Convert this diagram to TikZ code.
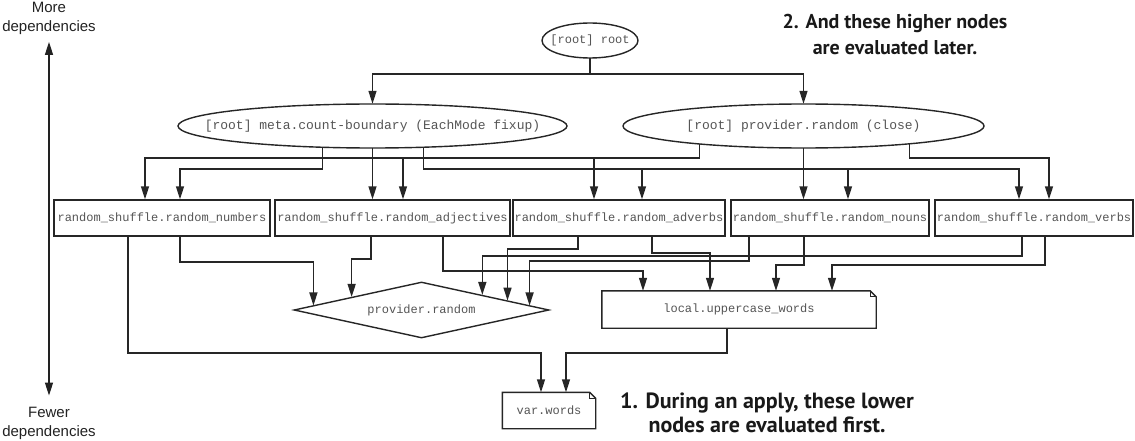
\documentclass[tikz,border=0pt]{standalone}
\usepackage{fontspec}
\setmainfont{Liberation Sans}
\newfontfamily\monof{Liberation Mono}
\newfontfamily\annof{PT Sans}
\usetikzlibrary{shapes.geometric,arrows.meta,calc}
\pgfdeclarelayer{edgelayer}
\pgfdeclarelayer{shapelayer}
\pgfsetlayers{edgelayer,shapelayer,main}
\definecolor{lncol}{HTML}{262626}
\definecolor{txcol}{HTML}{555555}
\definecolor{sidecol}{HTML}{222222}
\tikzset{
  arr/.style={draw=lncol, line width=1.4pt, -{Triangle[length=13pt,width=8pt]}},
  plain/.style={draw=lncol, line width=1.4pt},
  ellshape/.style={draw=lncol, line width=1.4pt, fill=white},
  ell/.style={rectangle, inner sep=0pt, text=txcol, font=\monof\fontsize{12}{14}\selectfont},
  bigell/.style={ell, font=\monof\fontsize{13}{15}\selectfont, minimum height=44pt},
  boxn/.style={rectangle, draw=lncol, line width=1.4pt, fill=white, inner sep=0pt, minimum height=36pt, text=txcol, font=\monof\fontsize{12}{14}\selectfont},
  notebox/.style={rectangle, fill=white, inner sep=0pt, text=txcol, font=\monof\fontsize{12}{14}\selectfont},
  dia/.style={diamond, draw=lncol, line width=1.4pt, fill=white, inner sep=0pt, aspect=4.55, text=txcol, font=\monof\fontsize{12}{14}\selectfont},
  side/.style={align=center, inner sep=0pt, text=sidecol, font=\fontsize{15}{19}\selectfont},
  anno/.style={align=center, inner sep=0pt, text=black!90, font=\annof\bfseries\fontsize{20}{26}\selectfont},
  biarr/.style={draw=sidecol, line width=1.3pt, {Triangle[length=13pt,width=8pt]}-{Triangle[length=13pt,width=8pt]}}
}
\begin{document}
\begin{tikzpicture}[x=1pt,y=-1pt]
\useasboundingbox (0,0) rectangle (1135,441);
% side labels
\node[side] (more) at (49,18) {More\\dependencies};
\node[side] (fewer) at (49,423) {Fewer\\dependencies};
\draw[biarr] ([yshift=-7.5pt]more.south) -- ([yshift=11pt]fewer.north);
% annotations
\node[anno] (n2) at (895,35) {2. And these higher nodes\\are evaluated later.};
\node[anno, font=\annof\bfseries\fontsize{22}{24}\selectfont] (n1) at (767,413) {1. During an apply, these lower\\nodes are evaluated first.};
% nodes
\node[ell, minimum width=96pt, minimum height=35pt] (root) at (590,40.5) {[root] root};
\node[bigell, minimum width=389pt] (le) at (372.5,126) {[root] meta.count-boundary (EachMode fixup)};
\node[bigell, minimum width=361pt] (re) at (803.5,126) {[root] provider.random (close)};
\node[boxn, minimum width=216pt] (b1) at (162,218) {random\_shuffle.random\_numbers};
\node[boxn, minimum width=235pt] (b2) at (392.5,218) {random\_shuffle.random\_adjectives};
\node[boxn, minimum width=212pt] (b3) at (619,218) {random\_shuffle.random\_adverbs};
\node[boxn, minimum width=198pt] (b4) at (830,218) {random\_shuffle.random\_nouns};
\node[boxn, minimum width=198pt] (b5) at (1034,218) {random\_shuffle.random\_verbs};
\node[dia, minimum width=255pt, minimum height=56pt] (dia) at (421.5,310) {provider.random};
\node[notebox, minimum width=274pt, minimum height=37pt] (loc) at (739,309.5) {local.uppercase\_words};
\node[notebox, minimum width=93pt, minimum height=36pt] (var) at (549,410.5) {var.words};
% ellipse outlines
\begin{pgfonlayer}{shapelayer}
\draw[ellshape] (root.center) ellipse [x radius=48pt, y radius=17.5pt];
\draw[ellshape] (le.center) ellipse [x radius=194.5pt, y radius=22pt];
\draw[ellshape] (re.center) ellipse [x radius=180.5pt, y radius=22pt];
\end{pgfonlayer}
% note outlines
\foreach \n in {loc,var}{
  \draw[plain] (\n.north west) -- ([xshift=-6pt]\n.north east) -- ([yshift=-6pt]\n.north east) -- (\n.south east) -- (\n.south west) -- cycle;
  \draw[draw=lncol, line width=0.8pt] ([xshift=-6pt]\n.north east) |- ([yshift=-6pt]\n.north east);
}
% diamond entry points
\coordinate (d1) at ($(dia.west)!0.157!(dia.north)$);
\coordinate (d2) at ($(dia.west)!0.455!(dia.north)$);
\coordinate (d3) at ($(dia.north)!0.4745!(dia.east)$);
\coordinate (d4) at ($(dia.north)!0.671!(dia.east)$);
\coordinate (d5) at ($(dia.north)!0.843!(dia.east)$);
\begin{pgfonlayer}{edgelayer}
% root
\draw[arr] (root.center) -- (root.center |- 0,74) -| (le.north);
\draw[arr] (root.center) -- (root.center |- 0,74) -| (re.north);
% left ellipse
\draw[arr] ([xshift=-50pt]le.center) |- (180,169) -- (b1.north -| 180,0);
\draw[arr] (le.center) -- (b2.north -| le.center);
\draw[arr] ([xshift=51pt]le.center) |- (642,169) -- (b3.north -| 642,0);
\draw[arr] ([xshift=51pt]le.center) |- (848,169) -- (b4.north -| 848,0);
\draw[arr] ([xshift=51pt]le.center) |- (1019,169) -- (b5.north -| 1019,0);
% right ellipse
\draw[arr] ([xshift=-104pt]re.center) |- (594,158) -- (b3.north -| 594,0);
\draw[arr] ([xshift=-104pt]re.center) |- (403,158) -- (b2.north -| 403,0);
\draw[arr] ([xshift=-104pt]re.center) |- (145,158) -- (b1.north -| 145,0);
\draw[arr] (re.center) -- (b4.north -| re.center);
\draw[arr] ([xshift=106pt]re.center) |- (1049,158) -- (b5.north -| 1049,0);
% boxes to lower nodes
\draw[arr] (b1.south -| 128,0) |- (541,353) -- (var.north -| 541,0);
\draw[arr] (b1.south -| 180,0) |- (d1 |- 0,262) -- (d1);
\draw[arr] (b2.south -| 371,0) |- (d2 |- 0,259) -- (d2);
\draw[arr] (b2.south -| 443,0) |- (643,271) -- (loc.north -| 643,0);
\draw[arr] (b3.south -| 578,0) |- (d4 |- 0,249) -- (d4);
\draw[arr] (b3.south -| 652,0) |- (710,253) -- (loc.north -| 710,0);
\draw[arr] (b4.south -| 749,0) |- (d5 |- 0,261) -- (d5);
\draw[arr] (b4.south -| 804,0) |- (776,265) -- (loc.north -| 776,0);
\draw[arr] (b5.south -| 1022,0) |- (d3 |- 0,256) -- (d3);
\draw[arr] (b5.south -| 1045,0) |- (832,265) -- (loc.north -| 832,0);
\draw[arr] (loc.south -| 727,0) |- (566,353) -- (var.north -| 566,0);
\end{pgfonlayer}
\end{tikzpicture}
\end{document}
